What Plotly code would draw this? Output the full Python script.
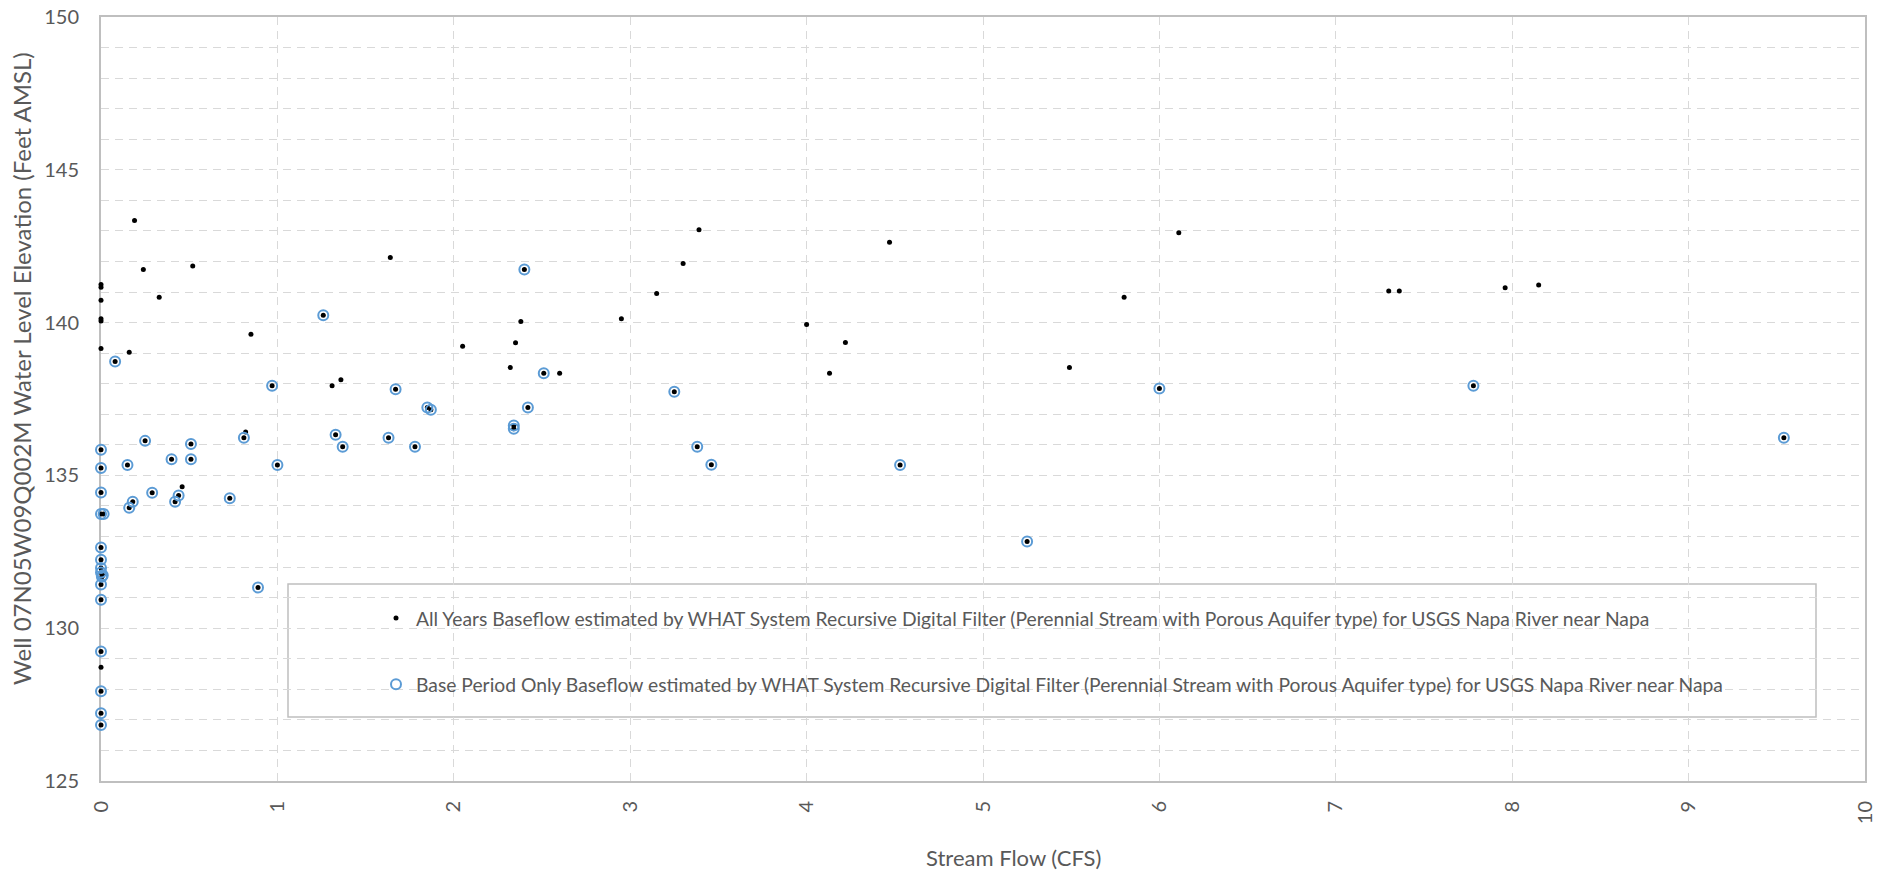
import plotly.graph_objects as go

# ---- Data ----
all_years_flow = [
    0, 0, 0, 0, 0, 0, 0,
    0, 0, 0, 0, 0.015, 0, 0, 0, 0, 0.01, 0.005, 0, 0, 0, 0, 0, 0,
    0.08, 0.15, 0.16, 0.16, 0.18, 0.19, 0.24, 0.25, 0.29, 0.33, 0.40, 0.42, 0.44, 0.46,
    0.51, 0.51, 0.52, 0.73, 0.81, 0.82, 0.85, 0.89, 0.97, 1.00,
    1.26, 1.31, 1.33, 1.36, 1.37, 1.63, 1.64, 1.67, 1.78, 1.85, 1.87,
    2.05, 2.32, 2.34, 2.34, 2.35, 2.38, 2.40, 2.42, 2.51, 2.60, 2.95,
    3.15, 3.25, 3.30, 3.38, 3.39, 3.46, 4.00, 4.13, 4.22, 4.47, 4.53,
    5.25, 5.49, 5.80, 6.00, 6.11, 7.30, 7.36, 7.78, 7.96, 8.15, 9.54,
]
all_years_elev = [
    141.25, 141.16, 140.73, 140.13, 140.05, 139.15, 128.72,
    135.84, 135.24, 134.44, 133.74, 133.74, 132.64, 132.24, 131.97, 131.82, 131.73, 131.68, 131.43, 130.93, 129.24, 127.94, 127.22, 126.83,
    138.73, 135.34, 133.94, 139.03, 134.14, 143.34, 141.74, 136.13, 134.43, 140.83, 135.53, 134.14, 134.34, 134.63,
    136.03, 135.53, 141.85, 134.25, 136.23, 136.42, 139.62, 131.33, 137.93, 135.34,
    140.24, 137.93, 136.33, 138.13, 135.94, 136.23, 142.13, 137.82, 135.94, 137.22, 137.15,
    139.23, 138.53, 136.63, 136.53, 139.34, 140.04, 141.74, 137.22, 138.34, 138.34, 140.13,
    140.95, 137.74, 141.93, 135.94, 143.04, 135.35, 139.94, 138.34, 139.35, 142.63, 135.34,
    132.84, 138.53, 140.83, 137.84, 142.94, 141.03, 141.03, 137.93, 141.14, 141.23, 136.23,
]

base_period_flow = [
    0, 0, 0, 0, 0.015, 0, 0, 0, 0, 0.01, 0.005, 0, 0, 0, 0, 0, 0,
    0.08, 0.15, 0.16, 0.18, 0.25, 0.29, 0.40, 0.42, 0.44, 0.51, 0.51, 0.73, 0.81, 0.89, 0.97, 1.00,
    1.26, 1.33, 1.37, 1.63, 1.67, 1.78, 1.85, 1.87, 2.34, 2.34, 2.40, 2.42, 2.51,
    3.25, 3.38, 3.46, 4.53, 5.25, 6.00, 7.78, 9.54,
]
base_period_elev = [
    135.84, 135.24, 134.44, 133.74, 133.74, 132.64, 132.24, 131.97, 131.82, 131.73, 131.68, 131.43, 130.93, 129.24, 127.94, 127.22, 126.83,
    138.73, 135.34, 133.94, 134.14, 136.13, 134.43, 135.53, 134.14, 134.34, 136.03, 135.53, 134.25, 136.23, 131.33, 137.93, 135.34,
    140.24, 136.33, 135.94, 136.23, 137.82, 135.94, 137.22, 137.15, 136.63, 136.53, 141.74, 137.22, 138.34,
    137.74, 135.94, 135.35, 135.34, 132.84, 137.84, 137.93, 136.23,
]

series_names = [
    "All Years Baseflow estimated by WHAT System Recursive Digital Filter (Perennial Stream with Porous Aquifer type) for USGS Napa River near Napa",
    "Base Period Only Baseflow estimated by WHAT System Recursive Digital Filter (Perennial Stream with Porous Aquifer type) for USGS Napa River near Napa",
]
x_title = "Stream Flow (CFS)"
y_title = "Well 07N05W09Q002M Water Level Elevation (Feet AMSL)"

FONT = "Lato, 'Open Sans', sans-serif"
TXT = "#595959"
GRID = "#D9D9D9"
AXL = "#BFBFBF"

W, H = 1895, 872
# plot area in page pixels
L, R, T, B = 101, 1865, 17, 781
PW, PH = R - L, B - T

def px(x):
    return (x - L) / PW

def py(y):
    return (B - y) / PH

fig = go.Figure()
fig.add_trace(go.Scatter(
    x=all_years_flow, y=all_years_elev, mode="markers", name=series_names[0],
    marker=dict(symbol="circle", size=5, color="black"),
    cliponaxis=False, legendgroup="a",
))
fig.add_trace(go.Scatter(
    x=base_period_flow, y=base_period_elev, mode="markers", name=series_names[1],
    marker=dict(symbol="circle-open", size=10, color="#5B9BD5", line=dict(width=2, color="#5B9BD5")),
    cliponaxis=False, legendgroup="b",
))

# legend frame
fig.add_shape(type="rect", xref="paper", yref="paper",
              x0=px(288), x1=px(1816), y0=py(717), y1=py(584),
              fillcolor="white", line=dict(color=AXL, width=1.5), layer="between")

fig.add_annotation(text=x_title, xref="paper", yref="paper",
                   x=px(1013), y=py(857), showarrow=False,
                   font=dict(family=FONT, size=22, color=TXT), xanchor="center", yanchor="middle")
fig.add_annotation(text=y_title, xref="paper", yref="paper", textangle=-90,
                   x=px(21), y=py(369), showarrow=False,
                   font=dict(family=FONT, size=24, color=TXT), xanchor="center", yanchor="middle")

fig.update_layout(
    width=W, height=H,
    margin=dict(l=L, r=W - R, t=T, b=H - B, autoexpand=False),
    paper_bgcolor="white", plot_bgcolor="white",
    font=dict(family=FONT, color=TXT),
    showlegend=True,
    legend=dict(
        x=px(376), y=py(599), xanchor="left", yanchor="top",
        bgcolor="rgba(0,0,0,0)", borderwidth=0,
        font=dict(family=FONT, size=19.3, color=TXT),
        traceorder="grouped", tracegroupgap=38,
        itemclick=False,
    ),
    xaxis=dict(
        range=[0, 10], dtick=1, tick0=0, automargin=False,
        showgrid=True, gridcolor=GRID, griddash="8px,6px", gridwidth=1,
        showline=True, linecolor=AXL, linewidth=2, mirror=True,
        zeroline=False, ticks="", tickangle=-90, ticklabelstandoff=10,
        tickfont=dict(family=FONT, size=20, color=TXT),
        layer="below traces",
    ),
    yaxis=dict(
        range=[125, 150], dtick=5, tick0=125, automargin=False,
        showgrid=True, gridcolor=GRID, griddash="8px,6px", gridwidth=1,
        minor=dict(dtick=1, showgrid=True, gridcolor=GRID, griddash="8px,6px", gridwidth=1),
        showline=True, linecolor=AXL, linewidth=2, mirror=True,
        zeroline=False, ticks="", ticklabelstandoff=16,
        tickfont=dict(family=FONT, size=20, color=TXT),
        layer="below traces",
    ),
)

# remove the browser's default 8px body margin so the figure fills the window exactly
fig.write_html("out.html",
               config={"displayModeBar": False},
               post_script="document.body.style.margin='0px';document.body.style.overflow='hidden';")
